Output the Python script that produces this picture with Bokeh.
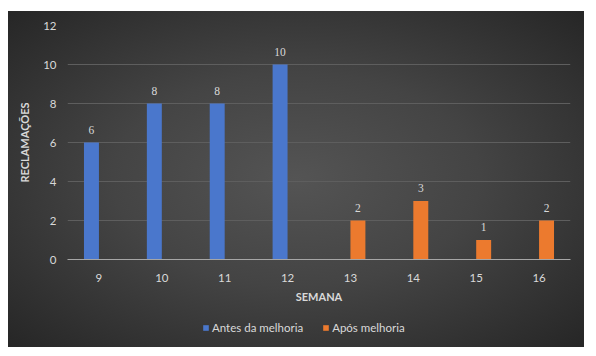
from bokeh.plotting import figure
from bokeh.layouts import column
from bokeh.models import ColumnDataSource, Range1d, FactorRange, LabelSet, Legend, LegendItem, InlineStyleSheet, SingleIntervalTicker
from bokeh.transform import dodge
from bokeh.embed import file_html
from bokeh.resources import INLINE

weeks = ["9", "10", "11", "12", "13", "14", "15", "16"]
antes_weeks = ["9", "10", "11", "12"]
antes_vals = [6, 8, 8, 10]
apos_weeks = ["13", "14", "15", "16"]
apos_vals = [2, 3, 1, 2]
series_names = ["Antes da melhoria", "Após melhoria"]
series_colors = ["#4a77cc", "#ec7a2e"]
y_title = "RECLAMAÇÕES"
x_title = "SEMANA"

FONT = "Lato"
TXT = "#d9d9d9"

src_a = ColumnDataSource(dict(week=antes_weeks, val=antes_vals, lab=[str(v) for v in antes_vals]))
src_b = ColumnDataSource(dict(week=apos_weeks, val=apos_vals, lab=[str(v) for v in apos_vals]))

p = figure(width=596, height=310, x_range=FactorRange(*weeks, range_padding=0),
           y_range=Range1d(0, 12), output_backend="svg", toolbar_location=None,
           min_border_left=67, min_border_right=26, min_border_top=25, min_border_bottom=51)
p.border_fill_color = None
p.background_fill_color = None
p.outline_line_color = None

bw = 0.238
p.vbar(x=dodge("week", -0.119, range=p.x_range), top="val", width=bw, source=src_a,
       fill_color=series_colors[0], line_color=None)
p.vbar(x=dodge("week", 0.119, range=p.x_range), top="val", width=bw, source=src_b,
       fill_color=series_colors[1], line_color=None)

for src, off in ((src_a, -0.119), (src_b, 0.119)):
    p.add_layout(LabelSet(x=dodge("week", off, range=p.x_range), y="val", text="lab", source=src,
                          text_align="center", text_baseline="middle", y_offset=13,
                          text_color=TXT, text_font_size="11.5px", text_font=FONT))

p.yaxis.ticker = SingleIntervalTicker(interval=2)
p.ygrid.grid_line_color = "#5e5e5e"
p.ygrid.grid_line_width = 1
p.xgrid.grid_line_color = None

for ax in (p.xaxis, p.yaxis):
    ax.major_tick_line_color = None
    ax.minor_tick_line_color = None
    ax.major_label_text_color = TXT
    ax.major_label_text_font = FONT
    ax.major_label_text_font_size = "11.5px"
    ax.axis_label_text_color = TXT
    ax.axis_label_text_font = FONT
    ax.axis_label_text_font_size = "11px"
    ax.axis_label_text_font_style = "bold"
p.yaxis.axis_line_color = None
p.xaxis.axis_line_color = "#a6a6a6"
p.xaxis.axis_line_width = 1
p.yaxis.axis_label = y_title
p.xaxis.axis_label = x_title
p.yaxis.major_label_standoff = 5
p.yaxis.axis_label_standoff = 9
p.xaxis.major_label_standoff = 8
p.xaxis.axis_label_standoff = 5

# legend strip
lg = figure(width=596, height=46, x_range=Range1d(0, 1), y_range=Range1d(0, 1),
            output_backend="svg", toolbar_location=None, x_axis_type=None, y_axis_type=None,
            min_border=0)
lg.border_fill_color = None
lg.background_fill_color = None
lg.outline_line_color = None
lg.grid.visible = False
items = []
for name, col in zip(series_names, series_colors):
    r = lg.vbar(x=[0], top=[0], bottom=[0], width=0.0, fill_color=col, line_color=None)
    items.append(LegendItem(label=name, renderers=[r]))
legend = Legend(items=items, orientation="horizontal", location=(135, 22),
                background_fill_alpha=0, border_line_color=None,
                label_text_color=TXT, label_text_font=FONT, label_text_font_size="11.5px",
                glyph_width=7, glyph_height=7, label_standoff=3, spacing=19,
                label_height=14, padding=0, margin=0)
lg.add_layout(legend, "center")

layout = column(p, lg, spacing=0)
layout.stylesheets = [InlineStyleSheet(css=":host { background: radial-gradient(ellipse farthest-corner at 50% 50%, #545454 0%, #444444 45%, #262626 100%) 8px 11px / 576px 336px no-repeat, #ffffff; }")]

open("out.html", "w").write(file_html(layout, INLINE))
